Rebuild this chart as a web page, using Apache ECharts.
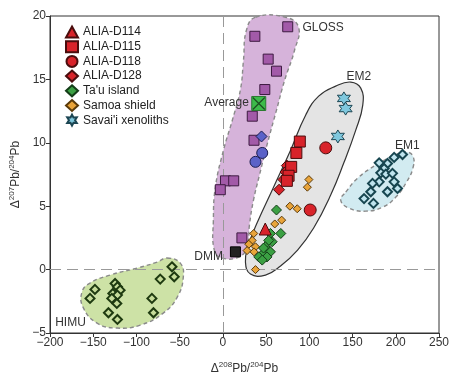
<!DOCTYPE html>
<html>
<head>
<meta charset="utf-8">
<script src="https://cdn.jsdelivr.net/npm/echarts@6/dist/echarts.min.js"></script>
<style>
html,body{margin:0;padding:0;background:#fff}
#chart{width:450px;height:378px}
</style>
</head>
<body>
<div id="chart"></div>
<script>
// ---- Pb isotope data: [Δ208Pb/204Pb, Δ207Pb/204Pb] ----
const aliaD114 = [[49, 3.2]];
const aliaD115 = [[89, 10.1], [85, 9.2], [79, 8.1], [76, 7.4], [74, 7.0]];
const aliaD118 = [[119, 9.6], [101, 4.7]];
const aliaD128 = [[74, 8.2], [72.5, 7.7], [70, 7.1], [65, 6.3]];
const tauIsland = [[62, 4.7], [67, 2.85], [55, 2.85], [57, 2.2], [53, 2.3], [49, 1.8], [53, 1.5],
  [47, 1.3], [55, 1.4], [41.5, 1.0], [51, 1.0], [45.5, 0.75], [47, 1.7]];
const samoaShield = [[99.5, 7.1], [97.7, 6.5], [77.5, 5.0], [86, 4.8], [68, 3.9], [60, 3.6],
  [35.7, 2.85], [33.9, 2.3], [37.7, 1.8], [30, 2.0], [28, 1.5], [36, 1.4], [37.7, 0.0]];
const savaiiXenoliths = [[140, 13.5], [142, 12.7], [133, 10.5]];
const glossSamples = [[75, 19.15], [37, 18.4], [52.4, 16.6], [62, 15.65], [48.5, 14.2], [34, 12.1],
  [36, 10.2], [3, 7.0], [12.5, 7.0], [-3, 6.3], [22, 2.5]];
const blueCircles = [[45.5, 9.2], [37.7, 8.5]];
const blueDiamonds = [[44.7, 10.5]];
const dmmPoint = [[14.5, 1.4]];
const glossAverage = [[41.5, 13.1]];
const himuSamples = [[-148, -1.56], [-153.7, -2.27], [-124.7, -1.09], [-122, -1.36], [-118.9, -1.62],
  [-127.3, -1.88], [-122, -2.01], [-128.5, -2.27], [-122.7, -2.67], [-132.4, -3.4], [-122, -3.93],
  [-82.1, -2.27], [-80.3, -3.4], [-72.5, -0.75], [-58.9, 0.22], [-56.3, -0.57]];
const em1Samples = [[207.8, 9.08], [198.1, 8.85], [190.4, 8.37], [180.8, 8.42], [186.5, 7.97],
  [182.7, 7.63], [188.5, 7.53], [196.2, 7.59], [180.8, 6.92], [173.1, 6.8], [198.1, 6.92],
  [202, 6.4], [190.4, 6.14], [171.1, 6.14], [163.3, 5.6], [174.2, 5.22]];

// ---- Mantle end-member field outlines (data space) ----
const glossField = [[37.7, 19.9], [72.5, 19.9], [87.6, 19.1], [82.9, 17.3], [71.3, 14.9], [62.1, 12.6],
  [51.6, 9.98], [42.3, 7.45], [35.4, 5.48], [30.7, 3.51], [28.4, 1.93], [20.3, 1.06], [-0.6, 0.9],
  [-9.9, 1.54], [-11, 3.9], [-8.7, 6.5], [0.6, 9.4], [11, 11.8], [20.3, 14.2], [23.8, 16.5], [27.3, 18.9]];
const em2Field = [[130.5, 14.47], [147.9, 14.79], [159.5, 14.31], [161.8, 12.97], [153.7, 11.0],
  [139.8, 8.4], [124.7, 5.88], [105, 3.28], [86.4, 1.54], [66.7, 0.28], [49.3, -0.43], [31.9, -0.35],
  [26.1, 0.59], [29.6, 1.93], [40, 3.75], [58.6, 6.5], [78.3, 9.42], [95.7, 12.18], [110.8, 13.68]];
const em1Field = [[142.1, 6.11], [156, 7.22], [176.9, 8.24], [196.6, 8.95], [211.7, 9.27], [219.8, 8.95],
  [219.8, 8.0], [211.7, 6.82], [200.1, 5.72], [185, 4.93], [165.3, 4.61], [145.6, 4.85], [136.3, 5.48]];
const himuField = [[-64.7, 0.91], [-49.3, 0.51], [-45.8, -0.59], [-52.8, -2.17], [-69, -3.43],
  [-95.7, -4.38], [-122.4, -4.61], [-145.6, -4.22], [-161.8, -2.96], [-163, -1.77], [-153.7, -1.06],
  [-130.5, -0.43], [-99.2, 0.12], [-76, 0.59]];

// ---- Field labels (anchored in data space) ----
const fieldLabels = [
  { name: 'GLOSS', at: [92, 19.1], align: 'left' },
  { name: 'EM2', at: [143, 15.2], align: 'left' },
  { name: 'EM1', at: [199, 9.8], align: 'left' },
  { name: 'HIMU', at: [-194, -4.2], align: 'left' },
  { name: 'DMM', at: [0, 1.0], align: 'right' },
  { name: 'Average', at: [30, 13.2], align: 'right' }
];

const xMin = -200, xMax = 250, xStep = 50;
const yMin = -5, yMax = 20, yStep = 5;

const FONT = 'Liberation Sans, Arial, sans-serif';
const STAR = 'path://M100,0L127.5,52.4L186.6,50L155,100L186.6,150L127.5,147.6L100,200L72.5,147.6L13.4,150L45,100L13.4,50L72.5,52.4Z';
const CROSS = 'path://M0,0L10,10M10,0L0,10';

function fieldSeries(points, fill, stroke, dashed) {
  return {
    type: 'custom',
    silent: true,
    z: 1,
    clip: false,
    data: [[0, 0]],
    renderItem: function (params, api) {
      const pts = points.map(p => api.coord(p));
      return {
        type: 'polygon',
        shape: { points: pts, smooth: 0.45 },
        style: {
          fill: fill,
          stroke: stroke,
          lineWidth: dashed ? 1.4 : 1.2,
          lineDash: dashed ? [4, 3] : null
        }
      };
    }
  };
}

function scatter(name, data, symbol, size, fill, border, bw, z) {
  return {
    name: name,
    type: 'scatter',
    data: data,
    symbol: symbol,
    symbolSize: size,
    z: z || 5,
    itemStyle: { color: fill, borderColor: border, borderWidth: bw, opacity: 1 },
    emphasis: { disabled: true }
  };
}

const labelSeries = {
  type: 'custom',
  silent: true,
  z: 6,
  clip: false,
  data: fieldLabels.map((d, i) => [d.at[0], d.at[1], i]),
  renderItem: function (params, api) {
    const d = fieldLabels[params.dataIndex];
    const p = api.coord(d.at);
    return {
      type: 'text',
      x: p[0], y: p[1],
      style: {
        text: d.name,
        fill: '#333',
        font: '12px ' + FONT,
        textAlign: d.align,
        textVerticalAlign: 'middle'
      }
    };
  }
};

const zeroLines = {
  type: 'scatter',
  data: [],
  z: 2,
  markLine: {
    silent: true,
    symbol: 'none',
    label: { show: false },
    lineStyle: { color: '#999', type: [11, 6], width: 1 },
    data: [{ xAxis: 0 }, { yAxis: 0 }]
  }
};

const axisName = () => ({
  rich: {
    n: { fontSize: 12, fontFamily: FONT, color: '#333', verticalAlign: 'bottom', lineHeight: 14 },
    s: { fontSize: 8, fontFamily: FONT, color: '#333', verticalAlign: 'top', lineHeight: 14 }
  }
});

const minusLabel = v => String(v).replace('-', '\u2212');

const chart = echarts.init(document.getElementById('chart'), null, { renderer: 'canvas' });
chart.setOption({
  animation: false,
  backgroundColor: '#fff',
  grid: {
    left: 50, right: 11, top: 16, bottom: 45,
    containLabel: false, outerBoundsMode: 'none',
    show: true, borderColor: '#333', borderWidth: 1
  },
  legend: {
    orient: 'vertical',
    left: 60, top: 20,
    itemWidth: 12, itemHeight: 11, itemGap: 0.7,
    textStyle: { fontSize: 12, fontFamily: FONT, color: '#222', lineHeight: 14 },
    data: ['ALIA-D114', 'ALIA-D115', 'ALIA-D118', 'ALIA-D128', "Ta'u island", 'Samoa shield', "Savai'i xenoliths"]
  },
  xAxis: {
    type: 'value', min: xMin, max: xMax, interval: xStep,
    splitLine: { show: false },
    axisLine: { show: true, onZero: false, lineStyle: { color: '#333' } },
    axisTick: { show: true, length: 4, lineStyle: { color: '#333' } },
    axisLabel: { fontSize: 12, fontFamily: FONT, color: '#333', margin: 4, formatter: minusLabel },
    name: '{n|Δ}{s|208}{n|Pb/}{s|204}{n|Pb}',
    nameLocation: 'middle', nameGap: 28,
    nameTextStyle: axisName()
  },
  yAxis: {
    type: 'value', min: yMin, max: yMax, interval: yStep,
    splitLine: { show: false },
    axisLine: { show: true, onZero: false, lineStyle: { color: '#333' } },
    axisTick: { show: true, length: 4, lineStyle: { color: '#333' } },
    axisLabel: { fontSize: 12, fontFamily: FONT, color: '#333', margin: 4, formatter: minusLabel },
    name: '{n|Δ}{s|207}{n|Pb/}{s|204}{n|Pb}',
    nameLocation: 'middle', nameGap: 28, nameRotate: 90,
    nameTextStyle: axisName()
  },
  series: [
    fieldSeries(himuField, '#cde2a6', '#8a8a8a', true),
    fieldSeries(em1Field, '#d2ebf1', '#8a8a8a', true),
    fieldSeries(glossField, '#d6b3da', '#8a8a8a', true),
    fieldSeries(em2Field, '#e4e4e4', '#333', false),
    zeroLines,
    scatter('HIMU', himuSamples, 'diamond', 9, '#c6dc9a', '#1e3a10', 2),
    scatter('EM1', em1Samples, 'diamond', 9, '#bfe4ee', '#174650', 2),
    scatter('GLOSS', glossSamples, 'rect', 10, '#a25aa8', '#3d1a40', 1),
    scatter('Blue circles', blueCircles, 'circle', 11, '#5b62c8', '#1a1d50', 1),
    scatter('Blue diamonds', blueDiamonds, 'diamond', 11, '#5b62c8', '#1a1d50', 1),
    scatter('DMM', dmmPoint, 'rect', 10, '#222', '#000', 1),
    scatter('Average', glossAverage, 'rect', 14, '#3dbb4a', '#2a7a30', 1, 6),
    scatter('Average X', glossAverage, CROSS, 12, 'rgba(0,0,0,0)', '#1d4d22', 1.2, 7),
    scatter("Savai'i xenoliths", savaiiXenoliths, STAR, 13, '#7fc8de', '#1c4653', 1),
    scatter('Samoa shield', samoaShield, 'diamond', 8, '#e9a43a', '#5a3a0a', 1),
    scatter("Ta'u island", tauIsland, 'diamond', 10, '#3ba043', '#143d18', 1),
    scatter('ALIA-D128', aliaD128, 'diamond', 11, '#d8232a', '#4a0d0d', 1),
    scatter('ALIA-D115', aliaD115, 'rect', 11, '#d8232a', '#4a0d0d', 1),
    scatter('ALIA-D118', aliaD118, 'circle', 12, '#d8232a', '#4a0d0d', 1),
    scatter('ALIA-D114', aliaD114, 'triangle', 12, '#d8232a', '#4a0d0d', 1),
    labelSeries
  ]
});
</script>
</body>
</html>
